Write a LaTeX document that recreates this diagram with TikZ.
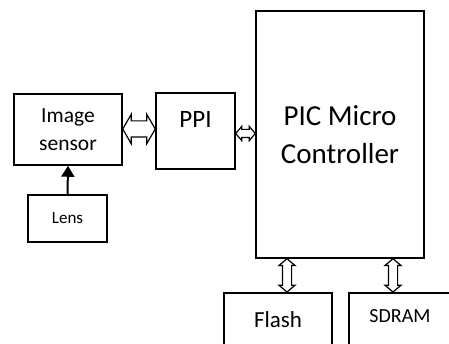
\documentclass[tikz,border=0pt]{standalone}
\usepackage{fontspec}
\setmainfont{Carlito}
\usetikzlibrary{shapes.arrows,arrows.meta,calc}
\begin{document}
\begin{tikzpicture}[x=1pt,y=1pt,
  box/.style={draw,line width=1.5pt,inner sep=0pt,align=center},
  dblarrow/.style={draw,line width=1.2pt,double arrow,inner sep=0pt,fill=white},
]
\clip (0,0) rectangle (449,343);
\fill[white] (0,0) rectangle (449,343);
% boxes
\node[box,minimum width=108pt,minimum height=71pt,font=\fontsize{21.5}{28}\selectfont] (img) at (68,213.5) {Image\\sensor};
\node[box,minimum width=79pt,minimum height=47pt,font=\fontsize{17}{20}\selectfont] (lens) at (67.5,124.5) {Lens};
\node[box,minimum width=79pt,minimum height=76pt] (ppi) at (195.5,212) {};
\node[font=\fontsize{25}{30}\selectfont,anchor=base] (ppitext) at ([yshift=-35pt]ppi.north) {PPI};
\node[box,minimum width=168pt,minimum height=247pt,font=\fontsize{29}{38}\selectfont] (pic) at (340,208.5) {PIC Micro\\Controller};
\node[box,minimum width=108pt,minimum height=90pt,anchor=north] (flash) at (278,51) {};
\node[font=\fontsize{23}{27}\selectfont] (flashtext) at ([yshift=-28pt]flash.north) {Flash};
\node[box,minimum width=130pt,minimum height=90pt,anchor=north west] (sdram) at (348,51) {};
\node[font=\fontsize{20}{24}\selectfont] (sdramtext) at ([xshift=52pt,yshift=-24pt]sdram.north west) {SDRAM};
% lens arrow
\draw[line width=2pt,-{Triangle[length=11pt,width=13pt]}] (lens.north) -- (img.south);
% hollow double arrows
\path let \p1=(img.east), \p2=(ppi.west) in
  node[dblarrow,minimum height={\x2-\x1},minimum width=28pt,inner ysep=7.5pt,
       double arrow head extend=6.5pt,double arrow tip angle=120] (a1) at ($(\x1,214)!0.5!(\x2,214)$) {};
\path let \p1=(ppi.east), \p2=(pic.west) in
  node[dblarrow,minimum height={\x2-\x1},minimum width=13pt,inner ysep=3.5pt,
       double arrow head extend=3pt,double arrow tip angle=100] (a2) at ($(\x1,209.5)!0.5!(\x2,209.5)$) {};
\path let \p1=(pic.south), \p2=(flash.north) in
  node[dblarrow,rotate=90,minimum height={\y1-\y2},minimum width=15pt,inner ysep=4pt,
       double arrow head extend=3.5pt,double arrow tip angle=100] (a3) at ($(287,\y1)!0.5!(287,\y2)$) {};
\path let \p1=(pic.south), \p2=(sdram.north) in
  node[dblarrow,rotate=90,minimum height={\y1-\y2},minimum width=15pt,inner ysep=4pt,
       double arrow head extend=3.5pt,double arrow tip angle=100] (a4) at ($(393,\y1)!0.5!(393,\y2)$) {};
\end{tikzpicture}
\end{document}
